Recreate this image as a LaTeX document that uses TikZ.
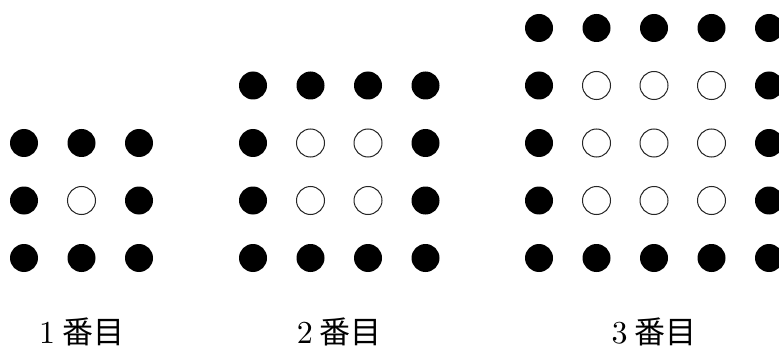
\documentclass[tikz,border=0pt]{standalone}
\usepackage{fontspec}
\newfontfamily\jpfont{Noto Sans CJK JP}
\newfontfamily\numfont{lmroman10-regular.otf}
\usetikzlibrary{positioning}
\tikzset{
  fulldot/.style={circle,fill=black,inner sep=0pt,minimum size=28pt},
  emptydot/.style={circle,draw=black!85,line width=1pt,fill=white,inner sep=0pt,minimum size=28pt},
  steplabel/.style={anchor=base,inner sep=0pt}
}
\newcommand{\steptext}[1]{{\numfont\fontsize{32}{32}\selectfont #1}\hspace{7pt}{\jpfont\fontsize{31}{31}\selectfont 番目}}
\begin{document}
\begin{tikzpicture}[x=1pt,y=1pt]
  \useasboundingbox (0,0) rectangle (779,354);
  % square patterns: step / left column
  \foreach \k/\xs in {1/24,2/253,3/539} {
    \pgfmathtruncatemacro{\n}{\k+2}
    \foreach \i in {1,...,\n} {
      \foreach \j in {1,...,\n} {
        \pgfmathtruncatemacro{\edge}{or(or(\i==1,\i==\n),or(\j==1,\j==\n))}
        \ifnum\edge=1 \def\dotkind{fulldot}\else\def\dotkind{emptydot}\fi
        \node[\dotkind] (d\k-\i-\j) at ({\xs+(\i-1)*57.5},{96+(\j-1)*57.5}) {};
      }
    }
    \node[steplabel] (lbl\k) at ({\xs+(\n-1)*57.5/2},11) {\steptext{\k}};
  }
\end{tikzpicture}
\end{document}
